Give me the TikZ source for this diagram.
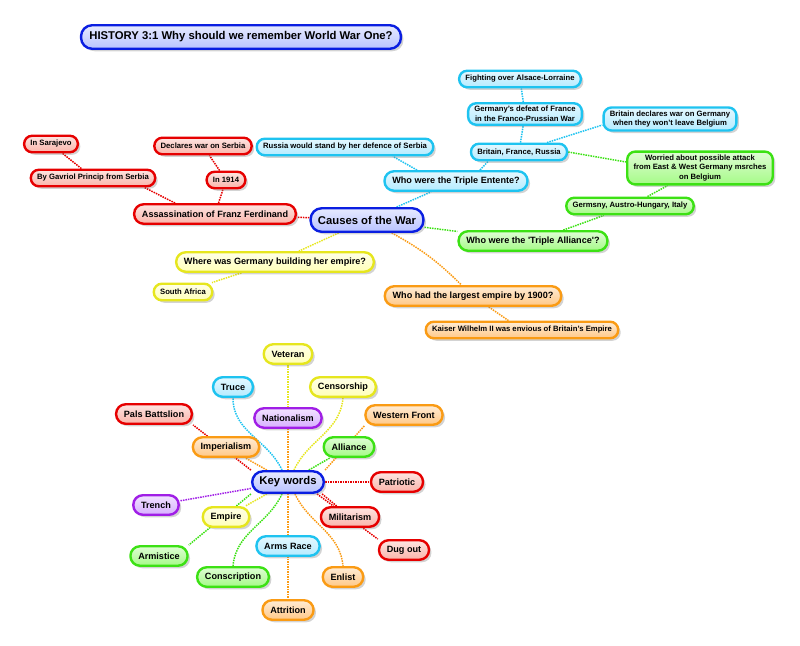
\documentclass[tikz,border=0pt]{standalone}
\usepackage{fontspec}
\setmainfont{Liberation Sans}
\usetikzlibrary{shadows,backgrounds}

\definecolor{blueL}{RGB}{10,30,225}   \definecolor{blueF}{RGB}{185,195,255}
\definecolor{redL}{RGB}{230,0,0}      \definecolor{redF}{RGB}{250,180,170}
\definecolor{cyanL}{RGB}{30,195,240}  \definecolor{cyanF}{RGB}{180,235,255}
\definecolor{greenL}{RGB}{60,225,20}  \definecolor{greenF}{RGB}{165,250,135}
\definecolor{yellowL}{RGB}{230,230,30}\definecolor{yellowF}{RGB}{255,255,185}
\definecolor{orangeL}{RGB}{250,155,20}\definecolor{orangeF}{RGB}{255,200,135}
\definecolor{purpleL}{RGB}{160,30,230}\definecolor{purpleF}{RGB}{215,175,255}

\tikzset{
  box/.style={draw=#1L, line width=2.4pt, top color=#1F!35!white, bottom color=#1F,
    text=black, drop shadow={shadow xshift=2.5pt, shadow yshift=-2.5pt, opacity=0.35}},
  sml/.style={font=\fontsize{7.7}{9.8}\selectfont\bfseries, minimum height=16.5pt,
    inner xsep=6.3pt, inner ysep=3pt, rounded corners=8pt},
  med/.style={font=\fontsize{9.1}{11}\selectfont\bfseries, minimum height=19.5pt,
    inner xsep=7.8pt, rounded corners=9.5pt},
  big/.style={font=\fontsize{11.3}{13}\selectfont\bfseries, minimum height=23.5pt,
    inner xsep=7.3pt, rounded corners=11pt},
  link/.style={draw=#1L, densely dotted, line width=1.5pt}
}

\begin{document}
\begin{tikzpicture}[x=1pt, y=-1pt, line cap=round]
\useasboundingbox (0,0) rectangle (800,645);

% title
\node[big, box=blue, inner xsep=8.3pt] (title) at (241,37) {HISTORY 3:1 Why should we remember World War One?};

% causes of the war
\node[big, box=blue] (causes) at (367,220) {Causes of the War};
\node[med, box=red] (assass) at (215,214) {Assassination of Franz Ferdinand};
\node[sml, box=red] (gavriol) at (93,178) {By Gavriol Princip from Serbia};
\node[sml, box=red] (sarajevo) at (51,144) {In Sarajevo};
\node[sml, box=red] (declares) at (203,146) {Declares war on Serbia};
\node[sml, box=red] (y1914) at (226,180) {In 1914};
\node[sml, box=cyan] (russia) at (345,147) {Russia would stand by her defence of Serbia};
\node[med, box=cyan] (entente) at (456,181) {Who were the Triple Entente?};
\node[sml, box=cyan] (bfr) at (519,152) {Britain, France, Russia};
\node[sml, box=cyan, align=center] (defeat) at (525,114) {Germany's defeat of France\\in the Franco-Prussian War};
\node[sml, box=cyan] (alsace) at (520,79) {Fighting over Alsace-Lorraine};
\node[sml, box=cyan, align=center] (belgium) at (670,119) {Britain declares war on Germany\\when they won't leave Belgium};
\node[sml, box=green, align=center] (worried) at (700,168) {Worried about possible attack\\from East \& West Germany msrches\\on Belgium};
\node[sml, box=green] (germsny) at (630,206) {Germsny, Austro-Hungary, Italy};
\node[med, box=green] (alliance3) at (533,241) {Who were the \textquotesingle Triple Alliance\textquotesingle?};
\node[med, box=yellow] (where) at (275,262) {Where was Germany building her empire?};
\node[sml, box=yellow] (safrica) at (183,292) {South Africa};
\node[med, box=orange] (largest) at (473,296) {Who had the largest empire by 1900?};
\node[sml, box=orange] (kaiser) at (522,330) {Kaiser Wilhelm II was envious of Britain's Empire};

% key words
\node[big, box=blue, minimum height=21.5pt] (kw) at (288,482) {Key words};
\node[med, box=yellow] (veteran) at (288,354) {Veteran};
\node[med, box=cyan] (truce) at (233,387) {Truce};
\node[med, box=yellow] (cens) at (343,387) {Censorship};
\node[med, box=red] (pals) at (154,414) {Pals Battslion};
\node[med, box=purple] (nation) at (288,418) {Nationalism};
\node[med, box=orange] (western) at (404,415) {Western Front};
\node[med, box=orange] (imperial) at (226,447) {Imperialism};
\node[med, box=green] (alliance) at (349,447) {Alliance};
\node[med, box=red] (patriotic) at (397,482) {Patriotic};
\node[med, box=purple] (trench) at (156,505) {Trench};
\node[med, box=yellow] (empire) at (226,517) {Empire};
\node[med, box=red] (militarism) at (350,517) {Militarism};
\node[med, box=green] (armistice) at (159,556) {Armistice};
\node[med, box=cyan] (arms) at (288,546) {Arms Race};
\node[med, box=red] (dugout) at (404,550) {Dug out};
\node[med, box=green] (consc) at (233,577) {Conscription};
\node[med, box=orange] (enlist) at (343,577) {Enlist};
\node[med, box=orange] (attrition) at (288,610) {Attrition};

\begin{pgfonlayer}{background}
% causes links
\draw[link=red] (causes) -- (assass);
\draw[link=red] ([xshift=-40pt]assass.north) -- ([xshift=-12pt]gavriol.south east);
\draw[link=red] (gavriol) -- (sarajevo);
\draw[link=red] (assass) -- (y1914);
\draw[link=red] (y1914) -- (declares);
\draw[link=cyan] (causes) -- (entente);
\draw[link=cyan] ([xshift=-39pt]entente.north) -- ([xshift=48pt]russia.south);
\draw[link=cyan] ([xshift=24pt]entente.north) -- ([xshift=-31pt]bfr.south);
\draw[link=cyan] (bfr) -- (defeat);
\draw[link=cyan] (defeat) -- (alsace);
\draw[link=cyan] ([xshift=28pt]bfr.north) -- ([yshift=-6pt]belgium.west);
\draw[link=green] (bfr.east) -- ([yshift=6pt]worried.west);
\draw[link=green] (causes) -- (alliance3);
\draw[link=green] (alliance3) -- (germsny);
\draw[link=green] (germsny) -- (worried);
\draw[link=yellow] (causes) -- (where);
\draw[link=yellow] (where) -- (safrica);
\draw[link=orange] (causes) to[bend left=8] (largest);
\draw[link=orange] (largest) -- (kaiser);
% key word links
\draw[link=yellow] (kw.north) -- (veteran.south);
\draw[link=orange] (kw.north) -- (nation.south);
\draw[link=cyan] ([xshift=-6pt]kw.north) to[out=115,in=-90] (truce.south);
\draw[link=yellow] ([xshift=6pt]kw.north) to[out=65,in=-95] (cens.south);
\draw[link=red] (kw.north west) -- (pals.south east);
\draw[link=orange] (kw) -- (imperial);
\draw[link=orange] (kw.north east) -- (western.south west);
\draw[link=green] (kw) -- (alliance);
\draw[link=red] (kw.east) -- (patriotic.west);
\draw[link=purple] (kw) -- (trench);
\draw[link=yellow] (kw) -- (empire);
\draw[link=green] (kw.south west) -- (armistice.north east);
\draw[link=red] ([xshift=-8pt]kw.south east) -- (dugout.north west);
\draw[link=red] ([xshift=-3pt]kw.south east) -- (militarism);
\draw[link=green] ([xshift=-6pt]kw.south) to[out=-115,in=85] (consc.north);
\draw[link=orange] ([xshift=7pt]kw.south) to[out=-65,in=95] (enlist.north);
\draw[link=orange] (kw.south) -- (attrition.north);
\end{pgfonlayer}
\end{tikzpicture}
\end{document}
